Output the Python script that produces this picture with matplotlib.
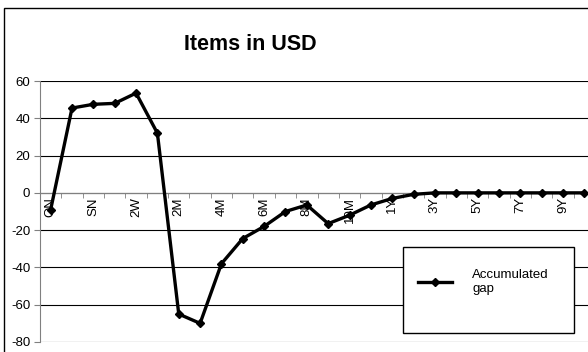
import numpy as np
import matplotlib
matplotlib.use('Agg')
import matplotlib.pyplot as plt
from matplotlib.patches import Rectangle

plt.rcParams['font.family'] = ['Liberation Sans', 'DejaVu Sans']
plt.rcParams['axes.unicode_minus'] = False

tenors = ['ON', 'TN', 'SN', '1W', '2W', '1M', '2M', '3M', '4M', '5M', '6M', '7M',
          '8M', '9M', '10M', '11M', '1Y', '2Y', '3Y', '4Y', '5Y', '6Y', '7Y', '8Y',
          '9Y', '10Y']
accumulated_gap = [-9, 45.5, 47.5, 48, 53.5, 32, -65, -70, -38, -24.5, -18, -10,
                   -6.5, -16.5, -12, -6.5, -3, -0.8, 0, 0, 0, 0, 0, 0, 0, 0]
y_ticks = [-80, -60, -40, -20, 0, 20, 40, 60]

W, H = 588, 352
fig = plt.figure(figsize=(W / 100, H / 100), dpi=100)

# chart area frame (runs off the right and bottom edges)
fig.add_artist(Rectangle((4 / W, -0.1), 2, 1 - 8 / H + 0.1, transform=fig.transFigure,
                         fill=False, edgecolor='black', linewidth=1))

ax = fig.add_axes([40 / W, 10 / H, 555 / W, 261 / H])
x = np.arange(len(tenors))
ax.plot(x, accumulated_gap, color='black', linewidth=2.4, marker='D', markersize=4.5,
        label='Accumulated\ngap', zorder=3, clip_on=False)

ax.set_xlim(-0.5, len(tenors) - 0.5)
ax.set_ylim(-80, 60)
ax.set_yticks(y_ticks)
ax.grid(axis='y', color='black', linewidth=0.8)
ax.set_axisbelow(True)

for side in ['top', 'right']:
    ax.spines[side].set_visible(False)
ax.spines['left'].set_linewidth(0.8)
ax.spines['left'].set_color('#808080')
ax.spines['bottom'].set_position(('data', 0))
ax.spines['bottom'].set_color('#808080')
ax.spines['bottom'].set_linewidth(0.8)

# every other tenor labelled, ticks between categories
ax.set_xticks(x[::2])
ax.set_xticklabels(tenors[::2], rotation=90, fontsize=9.5)
ax.set_xticks(np.arange(-0.5, len(tenors)), minor=True)
ax.tick_params(axis='x', which='major', length=0, pad=3)
ax.tick_params(axis='x', which='minor', length=3.5, direction='out', color='#808080')
ax.tick_params(axis='y', length=4, pad=3, labelsize=9.5, color='#808080')
for lbl in ax.get_xticklabels():
    lbl.set_verticalalignment('top')

fig.text(250 / W, 1 - 50 / H, 'Items in USD', fontsize=15.5, fontweight='bold',
         ha='center', va='baseline')

# legend box drawn separately so it keeps its own size
fig.add_artist(Rectangle((403 / W, 1 - 333 / H), 171 / W, 86 / H,
                         transform=fig.transFigure, facecolor='white',
                         edgecolor='black', linewidth=1, zorder=4))
leg = fig.legend(loc='upper left', bbox_to_anchor=(418 / W, 1 - 269 / H),
                 bbox_transform=fig.transFigure, fontsize=9.5, frameon=False,
                 borderpad=0, handlelength=2.6, handletextpad=1.5, borderaxespad=0)
leg.set_zorder(5)

fig.savefig('out.png', dpi=100)
